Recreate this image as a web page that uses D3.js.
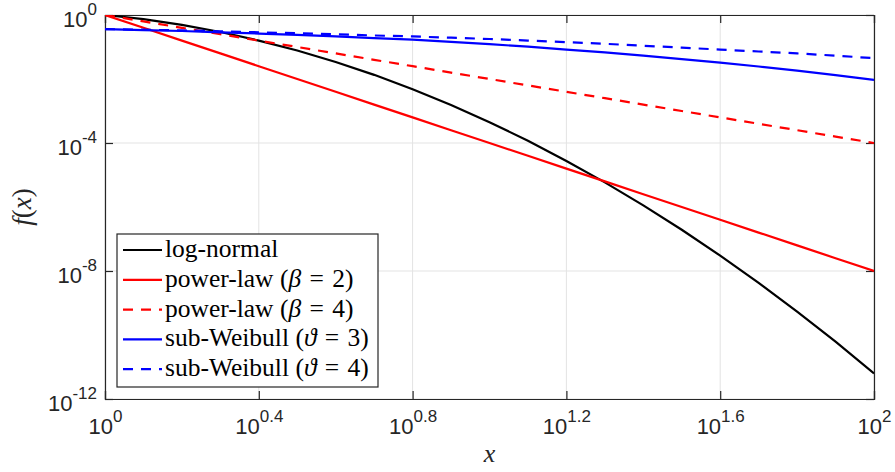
<!DOCTYPE html>
<html>
<head>
<meta charset="utf-8">
<script src="https://cdn.jsdelivr.net/npm/d3@7"></script>
<style>
  body { margin: 0; background: #fff; }
  .tick text { font-family: "Liberation Sans", Arial, sans-serif; fill: #262626; }
  .legend text { font-family: "Liberation Serif", "DejaVu Serif", serif; fill: #000; }
</style>
</head>
<body>
<svg width="895" height="472"></svg>
<script>
// log10(x) sample points, x = 10^u
const logX = [0, 0.1, 0.2, 0.3, 0.4, 0.5, 0.6, 0.7, 0.8, 0.9, 1.0,
              1.1, 1.2, 1.3, 1.4, 1.5, 1.6, 1.7, 1.8, 1.9, 2.0];

// log10(f(x))
const logNormal   = [0, -0.13, -0.31, -0.53, -0.80, -1.11, -1.47, -1.87, -2.32, -2.81, -3.35,
                     -3.93, -4.56, -5.23, -5.95, -6.71, -7.52, -8.37, -9.27, -10.21, -11.20];
const powerLaw2   = [0, -0.4, -0.8, -1.2, -1.6, -2.0, -2.4, -2.8, -3.2, -3.6, -4.0,
                     -4.4, -4.8, -5.2, -5.6, -6.0, -6.4, -6.8, -7.2, -7.6, -8.0];
const powerLaw4   = [0, -0.2, -0.4, -0.6, -0.8, -1.0, -1.2, -1.4, -1.6, -1.8, -2.0,
                     -2.2, -2.4, -2.6, -2.8, -3.0, -3.2, -3.4, -3.6, -3.8, -4.0];
const subWeibull3 = [-0.44, -0.47, -0.50, -0.54, -0.58, -0.62, -0.67, -0.72, -0.77, -0.84, -0.91,
                     -0.99, -1.08, -1.17, -1.27, -1.38, -1.49, -1.61, -1.74, -1.88, -2.03];
const subWeibull4 = [-0.44, -0.46, -0.48, -0.51, -0.54, -0.57, -0.60, -0.64, -0.67, -0.71, -0.75,
                     -0.80, -0.85, -0.90, -0.96, -1.02, -1.08, -1.14, -1.20, -1.27, -1.35];

const xTickExp = ["0", "0.4", "0.8", "1.2", "1.6", "2"];
const yTickExp = ["0", "-4", "-8", "-12"];

const series = [
    { name: "log-normal",  values: logNormal,   color: "#000000", dash: null },
    { name: "power-law",   values: powerLaw2,   color: "#ff0000", dash: null,   sym: "β", val: "2" },
    { name: "power-law",   values: powerLaw4,   color: "#ff0000", dash: "10,8", sym: "β", val: "4" },
    { name: "sub-Weibull", values: subWeibull3, color: "#0000ff", dash: null,   sym: "ϑ", val: "3" },
    { name: "sub-Weibull", values: subWeibull4, color: "#0000ff", dash: "10,8", sym: "ϑ", val: "4" },
];

const svg = d3.select("svg");
const margin = { left: 105, right: 21, top: 15, bottom: 73 };
const width  = +svg.attr("width")  - margin.left - margin.right;
const height = +svg.attr("height") - margin.top  - margin.bottom;

const x = d3.scaleLog().domain([1, 100]).range([0, width]);
const y = d3.scaleLog().domain([1e-12, 1]).range([height, 0]);

const g = svg.append("g").attr("transform", `translate(${margin.left},${margin.top})`);

const xTicks = xTickExp.map(e => Math.pow(10, +e));
const yTicks = yTickExp.map(e => Math.pow(10, +e));

// grid
g.append("g").selectAll("line.gx").data(xTicks).enter().append("line")
    .attr("x1", d => x(d)).attr("x2", d => x(d))
    .attr("y1", 0).attr("y2", height)
    .attr("stroke", "#e3e3e3").attr("stroke-width", 1);
g.append("g").selectAll("line.gy").data(yTicks).enter().append("line")
    .attr("y1", d => y(d)).attr("y2", d => y(d))
    .attr("x1", 0).attr("x2", width)
    .attr("stroke", "#e3e3e3").attr("stroke-width", 1);

// axes
const xAxis = g.append("g")
    .attr("transform", `translate(0,${height})`)
    .call(d3.axisBottom(x).tickValues(xTicks).tickSize(-8).tickFormat(""));
const yAxis = g.append("g")
    .call(d3.axisLeft(y).tickValues(yTicks).tickSize(-8).tickFormat(""));
g.append("g").call(d3.axisTop(x).tickValues(xTicks).tickSize(-8).tickFormat(""));
g.append("g").attr("transform", `translate(${width},0)`)
    .call(d3.axisRight(y).tickValues(yTicks).tickSize(-8).tickFormat(""));

g.selectAll(".domain").attr("stroke", "#262626").attr("stroke-width", 1.2);
g.selectAll(".tick line").attr("stroke", "#262626").attr("stroke-width", 1.2);

// tick labels with superscripts
xAxis.selectAll(".tick").each(function (d, i) {
    const t = d3.select(this).append("text")
        .attr("y", 35).attr("text-anchor", "middle")
        .attr("font-size", 22);
    t.append("tspan").text("10");
    t.append("tspan").attr("dy", -12).attr("font-size", 17).text(xTickExp[i]);
});
yAxis.selectAll(".tick").each(function (d, i) {
    const t = d3.select(this).append("text")
        .attr("x", -8).attr("y", 11).attr("text-anchor", "end")
        .attr("font-size", 22);
    t.append("tspan").text("10");
    t.append("tspan").attr("dy", -12).attr("font-size", 17).text(yTickExp[i]);
});

// curves
const line = d3.line()
    .x((d, i) => x(Math.pow(10, logX[i])))
    .y(d => y(Math.pow(10, d)));

svg.append("clipPath").attr("id", "clip")
    .append("rect").attr("width", width).attr("height", height);

g.append("g").attr("clip-path", "url(#clip)")
    .selectAll("path").data(series).enter().append("path")
    .attr("d", d => line(d.values))
    .attr("fill", "none")
    .attr("stroke", d => d.color)
    .attr("stroke-width", 2.2)
    .attr("stroke-dasharray", d => d.dash);

// axis labels
svg.append("text")
    .attr("x", margin.left + width / 2).attr("y", 462)
    .attr("text-anchor", "middle")
    .attr("font-family", "Liberation Serif, serif").attr("font-style", "italic")
    .attr("font-size", 26).attr("fill", "#262626")
    .text("x");

const yl = svg.append("text")
    .attr("transform", `translate(31,${margin.top + height / 2}) rotate(-90)`)
    .attr("text-anchor", "middle")
    .attr("font-family", "Liberation Serif, serif")
    .attr("font-size", 27).attr("fill", "#262626");
yl.append("tspan").attr("font-style", "italic").text("f");
yl.append("tspan").text("(");
yl.append("tspan").attr("font-style", "italic").text("x");
yl.append("tspan").text(")");

// legend
const legend = svg.append("g").attr("class", "legend").attr("transform", "translate(117,234)");
legend.append("rect")
    .attr("width", 261).attr("height", 153)
    .attr("fill", "#fff").attr("stroke", "#262626").attr("stroke-width", 1.2);

const row = legend.selectAll("g.row").data(series).enter().append("g")
    .attr("class", "row")
    .attr("transform", (d, i) => `translate(0,${16 + i * 29.8})`);
row.append("line")
    .attr("x1", 6).attr("x2", 45).attr("y1", 0).attr("y2", 0)
    .attr("stroke", d => d.color).attr("stroke-width", 2.2)
    .attr("stroke-dasharray", d => d.dash);
row.each(function (d) {
    const t = d3.select(this).append("text")
        .attr("x", 48).attr("y", 7).attr("font-size", 25.5);
    t.append("tspan").text(d.name);
    if (d.sym) {
        t.append("tspan").text(" (");
        t.append("tspan").attr("font-style", "italic").text(d.sym);
        t.append("tspan").attr("dx", 2).text(" =");
        t.append("tspan").attr("dx", 2).text(" " + d.val + ")");
    }
});
</script>
</body>
</html>
